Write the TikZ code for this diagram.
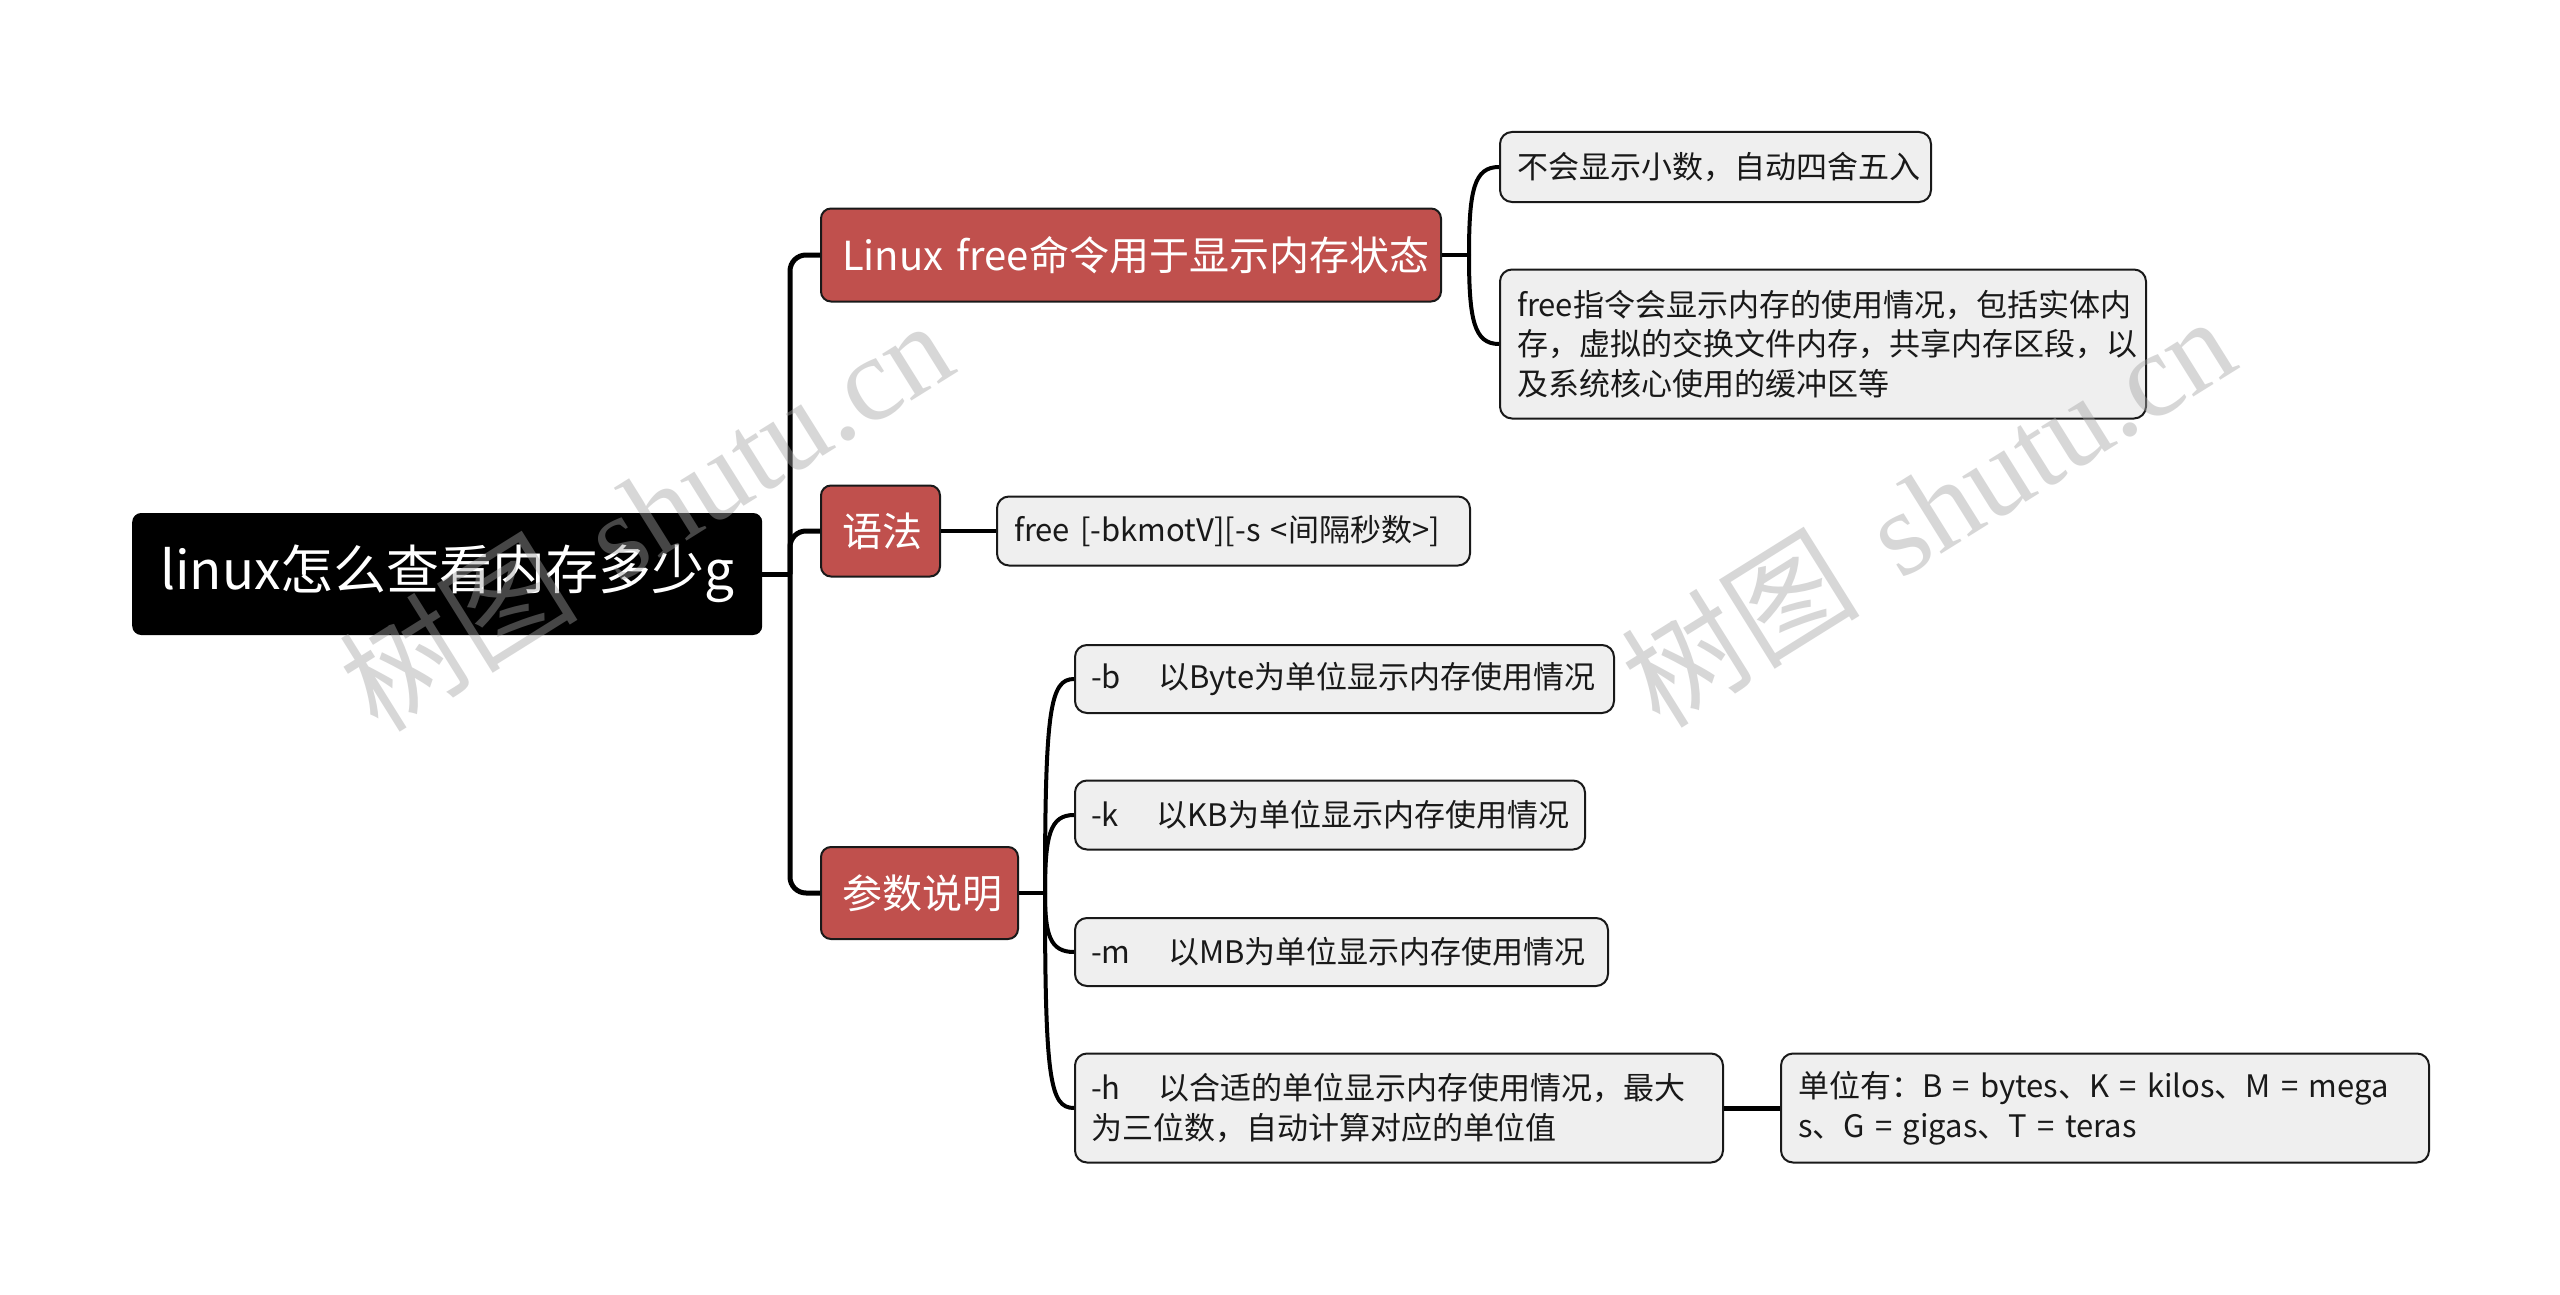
\documentclass[tikz,border=0pt]{standalone}
\usepackage{fontspec}
\setmainfont{Noto Sans CJK SC}[WordSpace=1.6]
\newfontfamily\wmserif{Liberation Serif}
\usetikzlibrary{calc}
\newcommand\oneline[1]{\mbox{#1}}
\definecolor{branchred}{RGB}{192,80,77}
\definecolor{leafgray}{RGB}{239,239,239}
\definecolor{edgedark}{RGB}{25,25,25}
\definecolor{wmgray}{RGB}{163,163,163}
\tikzset{
  rootbox/.style={fill=black, text=white, rounded corners=9pt, inner xsep=28pt, inner ysep=0pt,
    font=\fontsize{53pt}{62pt}\selectfont, align=left, anchor=west},
  branchbox/.style={fill=branchred, draw=edgedark, line width=2pt, text=white,
    rounded corners=10pt, inner xsep=21pt, inner ysep=0pt, font=\fontsize{40pt}{48pt}\selectfont,
    align=left, anchor=west},
  leafbox/.style={fill=leafgray, draw=edgedark, line width=2pt, text=black!90,
    rounded corners=12pt, inner xsep=17pt, inner ysep=0pt, font=\fontsize{31pt}{39.5pt}\selectfont,
    align=left, anchor=west},
  link/.style={line width=5pt, draw=black},
  sublink/.style={line width=4pt, draw=black},
  watermark/.style={rotate=32, text=wmgray, opacity=0.43,
    font=\fontsize{120pt}{130pt}\selectfont},
}
\begin{document}
\begin{tikzpicture}[x=1pt, y=-1pt]
\useasboundingbox (0,0) rectangle (2560,1295);
\fill[white] (0,0) rectangle (2560,1295);

% root and branches
\node[rootbox, text width=574pt, minimum height=122pt] (root) at (132,574) {\oneline{linux怎么查看内存多少g}};
\node[branchbox, text width=578pt, minimum height=93pt] (b1) at (820,255) {\oneline{Linux free命令用于显示内存状态}};
\node[branchbox, text width=77pt, minimum height=91pt] (b2) at (820,531) {\oneline{语法}};
\node[branchbox, text width=155pt, minimum height=92pt] (b3) at (820,893) {\oneline{参数说明}};

% leaves
\node[leafbox, text width=397pt, minimum height=70pt] (l1a) at (1499,167) {\oneline{不会显示小数，自动四舍五入}};
\node[leafbox, text width=612pt, minimum height=149pt] (l1b) at (1499,344) {\oneline{free指令会显示内存的使用情况，包括实体内}\\\oneline{存，虚拟的交换文件内存，共享内存区段，以}\\\oneline{及系统核心使用的缓冲区等}};
\node[leafbox, text width=439pt, minimum height=69pt] (syn) at (996,531) {\oneline{free [-bkmotV][-s <间隔秒数>]}};
\node[leafbox, text width=507pt, inner xsep=16pt, minimum height=68pt] (lb) at (1074,679) {\oneline{-b\hspace{38pt}以Byte为单位显示内存使用情况}};
\node[leafbox, text width=478pt, inner xsep=16pt, minimum height=69pt] (lk) at (1074,815) {\oneline{-k\hspace{38pt}以KB为单位显示内存使用情况}};
\node[leafbox, text width=501pt, inner xsep=16pt, minimum height=68pt] (lm) at (1074,952) {\oneline{-m\hspace{38pt}以MB为单位显示内存使用情况}};
\node[leafbox, text width=616pt, inner xsep=16pt, minimum height=109pt] (lh) at (1074,1108) {\oneline{-h\hspace{38pt}以合适的单位显示内存使用情况，最大}\\\oneline{为三位数，自动计算对应的单位值}};
\node[leafbox, text width=614pt, minimum height=109pt] (lu) at (1780,1108) {\oneline{单位有：B = bytes、K = kilos、M = mega}\\\oneline{s、G = gigas、T = teras}};

% connectors
\coordinate (trunk) at (790,574);
\draw[link] (root.east) -- (trunk);
\draw[link, rounded corners=16pt] (trunk) |- (b1.west);
\draw[link, rounded corners=16pt] (trunk) |- (b2.west);
\draw[link, rounded corners=16pt] (trunk) |- (b3.west);

\coordinate (s1) at (1469,255);
\draw[sublink] (b1.east) -- (s1);
\draw[sublink] (s1) .. controls (1469,190) and (1474,167) .. (l1a.west);
\draw[sublink] (s1) .. controls (1469,320) and (1474,344) .. (l1b.west);

\draw[sublink] (b2.east) -- (syn.west);

\coordinate (s3) at (1045,893);
\draw[sublink] (b3.east) -- (s3);
\draw[sublink] (s3) .. controls (1045,710) and (1050,679) .. (lb.west);
\draw[sublink] (s3) .. controls (1045,835) and (1050,815) .. (lk.west);
\draw[sublink] (s3) .. controls (1045,935) and (1050,952) .. (lm.west);
\draw[sublink] (s3) .. controls (1045,1080) and (1050,1108) .. (lh.west);
\draw[link] (lh.east) -- (lu.west);

% watermarks
\node[watermark] (wm1) at (645,514) {树图 {\wmserif shutu.cn}};
\node[watermark] (wm2) at (1927,510) {树图 {\wmserif shutu.cn}};
\end{tikzpicture}
\end{document}
